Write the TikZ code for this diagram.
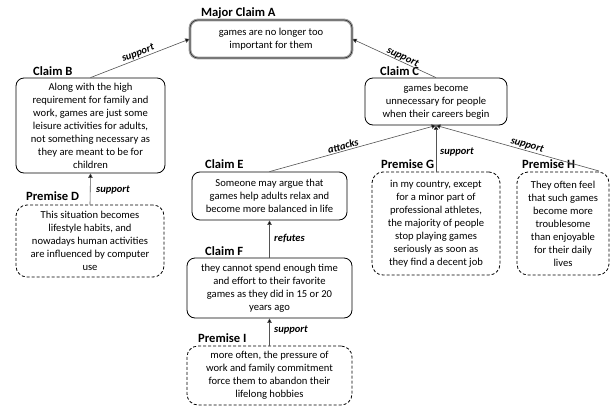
\documentclass[tikz,border=0pt]{standalone}
\usepackage{fontspec}
\setmainfont{Carlito}
\usetikzlibrary{arrows.meta}
\begin{document}
\begin{tikzpicture}[x=1pt,y=-1pt,
  box/.style={draw=black, line width=0.8pt, rounded corners=8pt, align=center,
    inner sep=2pt, font=\fontsize{10.6}{13}\selectfont},
  dbox/.style={box, dash pattern=on 3pt off 2pt, rounded corners=11pt},
  mbox/.style={box, draw=black!80, line width=0.6pt,
    preaction={draw=gray!75, line width=2.8pt}},
  ttl/.style={anchor=west, inner sep=0pt, font=\fontsize{12.6}{14}\selectfont\bfseries},
  lbl/.style={inner sep=1pt, font=\fontsize{10.5}{12}\selectfont\bfseries\itshape},
  arr/.style={draw=gray!65!black, line width=0.6pt,
    -{Triangle[width=4.5pt,length=4.5pt,fill=black]}}
]
\useasboundingbox (0,0) rectangle (611,410);

% boxes
\node[mbox, minimum width=162pt, minimum height=38pt] (A) at (271,39)
  {games are no longer too\\important for them};
\node[box, minimum width=149pt, minimum height=95pt] (B) at (90.5,125.5)
  {Along with the high\\requirement for family and\\work, games are just some\\leisure activities for adults,\\not something necessary as\\they are meant to be for\\children};
\node[dbox, minimum width=148pt, minimum height=72pt] (D) at (90,241)
  {This situation becomes\\lifestyle habits, and\\nowadays human activities\\are influenced by computer\\use};
\node[box, minimum width=142pt, minimum height=47pt] (C) at (436,101.5)
  {games become\\unnecessary for people\\when their careers begin};
\node[box, minimum width=155pt, minimum height=48pt] (E) at (269.5,196)
  {Someone may argue that\\games help adults relax and\\become more balanced in life};
\node[box, minimum width=165pt, minimum height=60pt] (F) at (269.5,288)
  {they cannot spend enough time\\and effort to their favorite\\games as they did in 15 or 20\\years ago};
\node[dbox, minimum width=165pt, minimum height=59pt] (I) at (269.5,375.5)
  {more often, the pressure of\\work and family commitment\\force them to abandon their\\lifelong hobbies};
\node[dbox, minimum width=128pt, minimum height=103pt] (G) at (436,223.5)
  {in my country, except\\for a minor part of\\professional athletes,\\the majority of people\\stop playing games\\seriously as soon as\\they find a decent job};
\node[dbox, minimum width=92pt, minimum height=103pt] (H) at (563,223.5)
  {They often feel\\that such games\\become more\\troublesome\\than enjoyable\\for their daily\\lives};

% titles
\node[ttl] (tA) at (201,13) {Major Claim A};
\node[ttl] (tB) at (33,71) {Claim B};
\node[ttl] (tD) at (26,196) {Premise D};
\node[ttl] (tC) at (380,71) {Claim C};
\node[ttl] (tE) at (205,164) {Claim E};
\node[ttl] (tF) at (205,251) {Claim F};
\node[ttl] (tI) at (198,338) {Premise I};
\node[ttl] (tG) at (381,164) {Premise G};
\node[ttl] (tH) at (522,164) {Premise H};

\coordinate (Htip) at (599,171);

% connectors
\draw[arr] (B.north) -- node[lbl, sloped, above] {support} (A.west);
\draw[arr] (C.north) -- node[lbl, sloped, above, inner sep=0pt, pos=0.42] {support} (A.east);
\draw[arr] (D.north) -- (B.south);
\node[lbl, anchor=west] (lD) at (95,190) {support};
\draw[arr] (E.north) -- node[lbl, sloped, above, pos=0.45] {attacks} (C.south);
\draw[arr] (G.north) -- (C.south);
\node[lbl, anchor=west] (lG) at (439,152) {support};
\draw[arr] (Htip) -- node[lbl, sloped, above, pos=0.45] {support} (C.south);
\draw[arr] (F.north) -- (E.south);
\node[lbl, anchor=west] (lF) at (273,238) {refutes};
\draw[arr] (I.north) -- (F.south);
\node[lbl, anchor=west] (lI) at (273,330) {support};
\end{tikzpicture}
\end{document}
